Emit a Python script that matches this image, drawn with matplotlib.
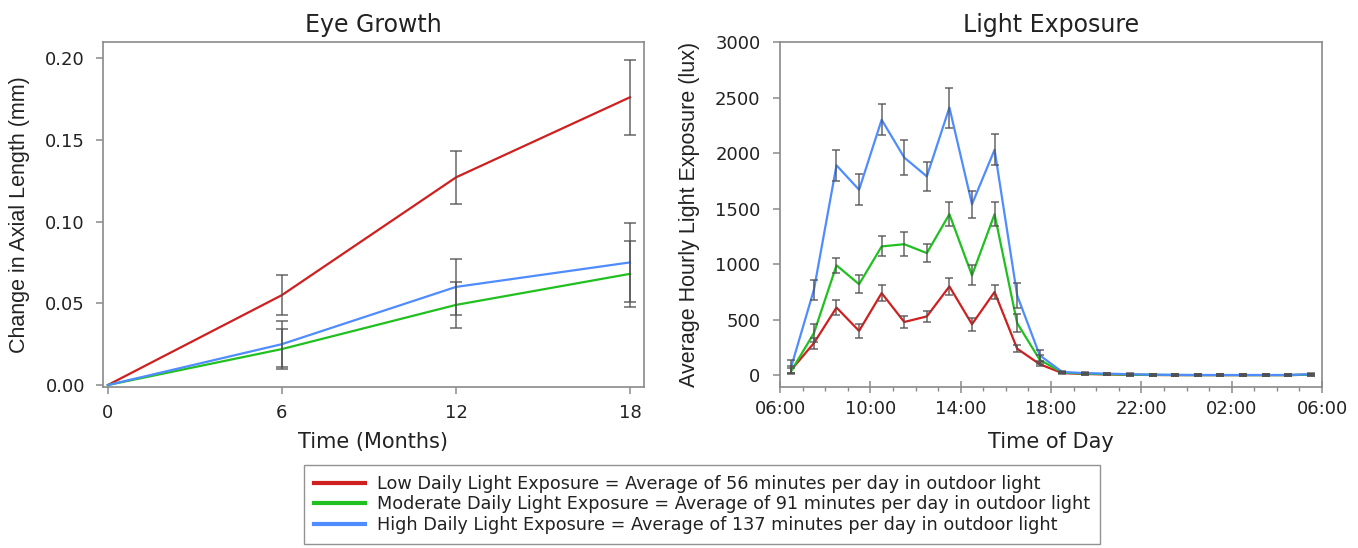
import matplotlib
matplotlib.use("Agg")
import matplotlib.pyplot as plt
from matplotlib.ticker import MultipleLocator

plt.rcParams['font.family'] = ['DejaVu Sans']

# ---------------- data ----------------
months = [0, 6, 12, 18]
growth_low = [0.0, 0.055, 0.127, 0.176]
growth_low_err = [0.0, 0.012, 0.016, 0.023]
growth_mod = [0.0, 0.022, 0.049, 0.068]
growth_mod_err = [0.0, 0.012, 0.014, 0.020]
growth_high = [0.0, 0.025, 0.060, 0.075]
growth_high_err = [0.0, 0.014, 0.017, 0.024]

# hours after midnight of day 1 (6.5 = 06:30 ... 29.5 = 05:30 next day)
hours = [6.5, 7.5, 8.5, 9.5, 10.5, 11.5, 12.5, 13.5, 14.5, 15.5, 16.5, 17.5,
         18.5, 19.5, 20.5, 21.5, 22.5, 23.5, 24.5, 25.5, 26.5, 27.5, 28.5, 29.5]
lux_low = [50, 290, 610, 400, 740, 480, 530, 800, 460, 750, 240, 100,
           20, 12, 8, 5, 3, 2, 2, 2, 2, 2, 2, 6]
lux_low_err = [30, 50, 70, 60, 70, 50, 50, 80, 60, 60, 30, 20,
               8, 8, 8, 8, 8, 8, 8, 8, 8, 8, 8, 8]
lux_mod = [40, 380, 990, 820, 1160, 1180, 1100, 1450, 900, 1450, 470, 140,
           25, 15, 10, 6, 4, 3, 2, 2, 2, 2, 2, 6]
lux_mod_err = [30, 80, 70, 80, 90, 110, 80, 110, 90, 110, 80, 40,
               8, 8, 8, 8, 8, 8, 8, 8, 8, 8, 8, 8]
lux_high = [80, 770, 1890, 1670, 2300, 1960, 1790, 2410, 1540, 2030, 720, 180,
            30, 20, 15, 10, 6, 4, 3, 3, 3, 3, 3, 10]
lux_high_err = [60, 90, 140, 140, 140, 160, 130, 180, 120, 140, 110, 50,
                8, 8, 8, 8, 8, 8, 8, 8, 8, 8, 8, 8]

hour_ticks = [6, 10, 14, 18, 22, 26, 30]
hour_labels = ["06:00", "10:00", "14:00", "18:00", "22:00", "02:00", "06:00"]

labels = ["Low Daily Light Exposure = Average of 56 minutes per day in outdoor light",
          "Moderate Daily Light Exposure = Average of 91 minutes per day in outdoor light",
          "High Daily Light Exposure = Average of 137 minutes per day in outdoor light"]
colors = ["#cf1f1f", "#20c020", "#4f8cff"]

# ---------------- figure ----------------
fig = plt.figure(figsize=(13.58, 5.48), dpi=100)
ax1 = fig.add_axes([0.0758, 0.2938, 0.3984, 0.6296])
ax2 = fig.add_axes([0.5744, 0.2938, 0.3991, 0.6296])

spine_col = "#8a8a8a"
err_col = "#505050"
txt_col = "#222222"

for ax in (ax1, ax2):
    for s in ax.spines.values():
        s.set_color(spine_col)
        s.set_linewidth(1.2)
    ax.tick_params(colors=spine_col, labelcolor=txt_col, labelsize=13)

# left panel
lines = []
for y, c in zip([growth_low, growth_mod, growth_high], colors):
    l, = ax1.plot(months, y, color=c, lw=1.6, zorder=3)
    lines.append(l)
for y, e in zip([growth_low, growth_mod, growth_high],
                [growth_low_err, growth_mod_err, growth_high_err]):
    ax1.errorbar(months[1:], y[1:], yerr=e[1:], fmt='none', ecolor=err_col,
                 elinewidth=1.2, capsize=4, capthick=1.2, alpha=0.8, zorder=4)
ax1.set_xlim(-0.17, 18.48)
ax1.set_ylim(-0.0012, 0.2098)
ax1.set_xticks(months)
ax1.set_yticks([0.0, 0.05, 0.10, 0.15, 0.20])
ax1.set_yticklabels(["0.00", "0.05", "0.10", "0.15", "0.20"])
ax1.tick_params(axis='x', direction='out', length=5, width=1.1, pad=7)
ax1.tick_params(axis='y', direction='out', length=5, width=1.1, pad=8)
ax1.set_title("Eye Growth", fontsize=17, pad=7, color=txt_col)
ax1.set_xlabel("Time (Months)", fontsize=15, color=txt_col)
ax1.xaxis.set_label_coords(0.5, -0.13)
ax1.set_ylabel("Change in Axial Length (mm)", fontsize=15.5,
               fontfamily='Liberation Sans', color=txt_col)
ax1.yaxis.set_label_coords(-0.135, 0.5)

# right panel
for y, c in zip([lux_low, lux_mod, lux_high], colors):
    ax2.plot(hours, y, color=c, lw=1.6, zorder=3)
for y, e in zip([lux_low, lux_mod, lux_high],
                [lux_low_err, lux_mod_err, lux_high_err]):
    ax2.errorbar(hours, y, yerr=e, fmt='none', ecolor=err_col,
                 elinewidth=1.2, capsize=3, capthick=1.2, alpha=0.8, zorder=4)
ax2.set_xlim(6, 30)
ax2.set_ylim(-105, 3000)
ax2.set_xticks(hour_ticks)
ax2.set_xticklabels(hour_labels)
ax2.xaxis.set_minor_locator(MultipleLocator(1))
ax2.set_yticks([0, 500, 1000, 1500, 2000, 2500, 3000])
ax2.tick_params(axis='x', which='major', direction='inout', length=9, width=1.1, pad=5)
ax2.tick_params(axis='x', which='minor', direction='out', length=3, width=1.0, colors=spine_col)
ax2.tick_params(axis='y', direction='out', length=5, width=1.1, pad=9)
ax2.set_title("Light Exposure", fontsize=17, pad=7, color=txt_col)
ax2.set_xlabel("Time of Day", fontsize=15, color=txt_col)
ax2.xaxis.set_label_coords(0.5, -0.13)
ax2.set_ylabel("Average Hourly Light Exposure (lux)", fontsize=15.5,
               fontfamily='Liberation Sans', color=txt_col)
ax2.yaxis.set_label_coords(-0.148, 0.5)

leg = fig.legend(lines, labels, loc='upper left', bbox_to_anchor=(304 / 1358, 1 - 465 / 548),
                 fontsize=12.7, frameon=True, fancybox=False, edgecolor="#777777",
                 handlelength=2.9, handletextpad=0.7, labelspacing=0.15,
                 borderpad=0.55, borderaxespad=0)
for t in leg.get_texts():
    t.set_color(txt_col)
for h in leg.get_lines():
    h.set_linewidth(3)
leg.get_frame().set_linewidth(1.0)

fig.savefig("out.png", dpi=100)
